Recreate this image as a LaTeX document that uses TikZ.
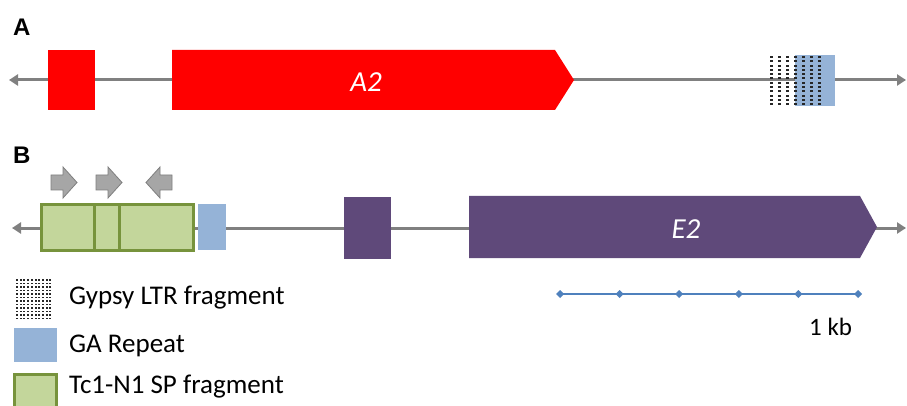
\documentclass[tikz,border=0pt]{standalone}
\usepackage{fontspec}
\setmainfont{Carlito}
\newfontfamily\labfont{Liberation Sans}
\usetikzlibrary{arrows.meta}
\definecolor{linegray}{HTML}{808080}
\definecolor{geneRed}{HTML}{FF0000}
\definecolor{genePurple}{HTML}{5F497A}
\definecolor{gaBlue}{HTML}{95B3D7}
\definecolor{tcFill}{HTML}{C3D69B}
\definecolor{tcBorder}{HTML}{77933C}
\definecolor{arrGray}{HTML}{A6A6A6}
\definecolor{arrBorder}{HTML}{7F7F7F}
\definecolor{scaleBlue}{HTML}{4F81BD}
\tikzset{
  backbone/.style={draw=linegray, line width=3pt, {Triangle[length=9pt,width=11pt]}-{Triangle[length=9pt,width=11pt]}},
  panellabel/.style={font=\labfont\bfseries\fontsize{24}{28}\selectfont, inner sep=0pt},
  genelabel/.style={font=\itshape\fontsize{29}{32}\selectfont, text=white, inner sep=0pt},
  legendtext/.style={font=\fontsize{27}{30}\selectfont, anchor=west, inner sep=0pt},
  tcbox/.style={fill=tcFill, draw=tcBorder, line width=3pt},
  blockarrow/.style={fill=arrGray, draw=arrBorder, line width=0.8pt, line join=miter},
  dotsq/.style={fill=black!85}
}
\newcommand{\dotgrid}[8]{% x0 y0 ncols nrows dx dy w h
  \foreach \i in {0,...,\numexpr#3-1\relax}{
    \foreach \j in {0,...,\numexpr#4-1\relax}{
      \fill[dotsq] (#1+\i*#5,#2+\j*#6) rectangle ++(#7,#8);
    }
  }
}
\begin{document}
\begin{tikzpicture}[x=1pt,y=-1pt]
\useasboundingbox[fill=white] (0,0) rectangle (907,406);

% ---------- Panel A ----------
\node[panellabel, anchor=north west] (labA) at (13,19) {A};
\coordinate (aL) at (9,80);
\coordinate (aR) at (906,80);
\draw[backbone] (aL) -- (aR);
\fill[geneRed] (48,50) rectangle (95,110);
\fill[geneRed] (172,50) -- (555,50) -- (574,80) -- (555,110) -- (172,110) -- cycle;
\node[genelabel] (A2) at (366,82) {A2};
% GA repeat and Gypsy fragment
\fill[gaBlue] (795,55) rectangle (835,106);
\dotgrid{770}{56}{7}{12}{8}{4.3}{2.6}{2.0}

% ---------- Panel B ----------
\node[panellabel, anchor=north west] (labB) at (13,147) {B};
\coordinate (bL) at (12,228);
\coordinate (bR) at (906,228);
\draw[backbone] (bL) -- (bR);
% Tc1-N1 fragment
\draw[tcbox] (41,205) rectangle (193,250);
\draw[tcBorder, line width=3pt] (94,205) -- (94,250);
\draw[tcBorder, line width=3pt] (119,205) -- (119,250);
\fill[gaBlue] (198,204) rectangle (226,250);
% block arrows
\draw[blockarrow] (51,175) -- (63,175) -- (63,167) -- (77,182.5) -- (63,198) -- (63,190) -- (51,190) -- cycle;
\draw[blockarrow] (96,175) -- (108,175) -- (108,167) -- (122,182.5) -- (108,198) -- (108,190) -- (96,190) -- cycle;
\draw[blockarrow] (172,175) -- (160,175) -- (160,167) -- (146,182.5) -- (160,198) -- (160,190) -- (172,190) -- cycle;
% E genes
\fill[genePurple] (344,197) rectangle (391,259);
\fill[genePurple] (469,196) -- (860,196) -- (877,227) -- (860,258) -- (469,258) -- cycle;
\node[genelabel] (E2) at (686,229) {E2};

% ---------- Scale bar ----------
\coordinate (s0) at (560,294);
\coordinate (s5) at (858,294);
\draw[scaleBlue, line width=2pt] (s0) -- (s5);
\foreach \k in {0,...,5}{
  \fill[scaleBlue] (560+\k*59.6,294) ++(0,-4) -- ++(4,4) -- ++(-4,4) -- ++(-4,-4) -- cycle;
}
\node[legendtext, font=\fontsize{25}{28}\selectfont] (kb) at (809,327) {1 kb};

% ---------- Legend ----------
\dotgrid{16}{279}{10}{12}{3.7}{3.5}{2.0}{1.8}
\node[legendtext] (lg1) at (69,298) {Gypsy LTR fragment};
\fill[gaBlue] (14,328) rectangle (57,362);
\node[legendtext] (lg2) at (69,346) {GA Repeat};
\draw[tcbox] (14,374) rectangle (56,410);
\node[legendtext] (lg3) at (69,387) {Tc1-N1 SP fragment};
\end{tikzpicture}
\end{document}
